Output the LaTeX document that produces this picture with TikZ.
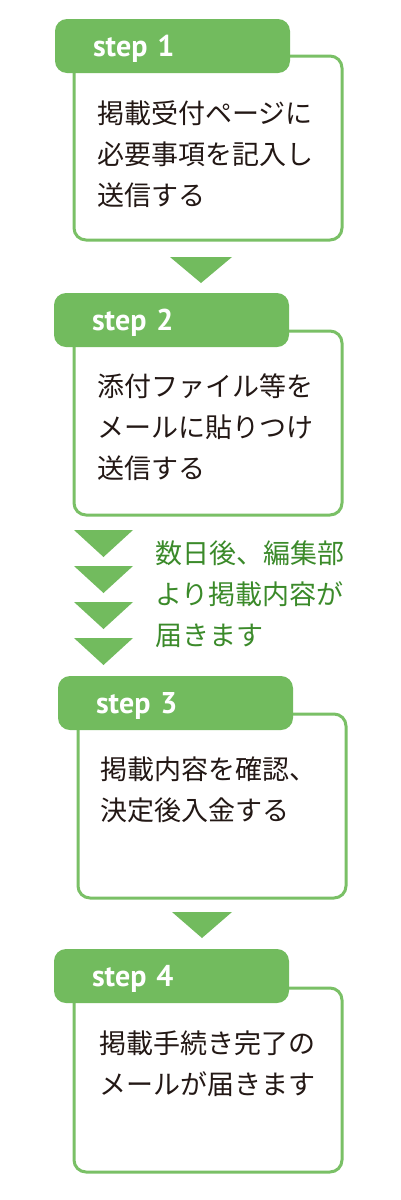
\documentclass[tikz,border=0pt]{standalone}
\usepackage{fontspec}
\newfontfamily\jpfont{Noto Sans CJK JP}
\newfontfamily\stepfont{PT Sans}[WordSpace=0.6]
\definecolor{stepgreen}{RGB}{114,187,94}
\definecolor{linegreen}{RGB}{122,192,102}
\definecolor{notegreen}{RGB}{59,138,42}
\definecolor{inkblack}{RGB}{35,24,21}
\tikzset{
  bodybox/.style={draw=linegreen, line width=3pt, rounded corners=12pt, fill=white,
    minimum width=268pt, minimum height=184pt, inner sep=0pt, outer sep=0pt, anchor=north west},
  tabbox/.style={fill=stepgreen, rounded corners=12pt, text=white,
    font=\stepfont\bfseries\fontsize{30pt}{30pt}\selectfont,
    text width=159pt, inner xsep=38pt, inner ysep=0pt, minimum height=54pt,
    text depth=0pt, align=left, outer sep=0pt, anchor=north west},
  % base anchor sits on the last line of the text
  steptext/.style={font=\jpfont\fontsize{27pt}{41pt}\selectfont, text=inkblack,
    align=left, anchor=base west, inner sep=0pt},
  notetext/.style={steptext, text=notegreen},
  downtri/.style={fill=stepgreen}
}
\begin{document}
\begin{tikzpicture}[x=1pt,y=-1pt]
  \useasboundingbox (0,0) rectangle (400,1200);
  % step 1
  \node[bodybox] (body1) at (74,56) {};
  \node[tabbox] (tab1) at (55,19) {step 1};
  \node[steptext] (text1) at (97,205) {掲載受付ページに\\必要事項を記入し\\送信する};
  \fill[downtri] (170,257) -- (232,257) -- (201,283) -- cycle;
  % step 2
  \node[bodybox] (body2) at (74,331) {};
  \node[tabbox] (tab2) at (54,293) {step 2};
  \node[steptext] (text2) at (97,478) {添付ファイル等を\\メールに貼りつけ\\送信する};
  % waiting
  \foreach \ty in {530,566,602,638}
    \fill[downtri] (74,\ty) -- (133,\ty) -- (103.5,{\ty+27}) -- cycle;
  \node[notetext] (note) at (155,645) {数日後、編集部\\より掲載内容が\\届きます};
  % step 3
  \node[bodybox] (body3) at (78,714) {};
  \node[tabbox] (tab3) at (58,676) {step 3};
  \node[steptext] (text3) at (100,820) {掲載内容を確認、\\決定後入金する};
  \fill[downtri] (172,912) -- (232,912) -- (202,938) -- cycle;
  % step 4
  \node[bodybox] (body4) at (74,988) {};
  \node[tabbox] (tab4) at (54,949) {step 4};
  \node[steptext] (text4) at (99,1094) {掲載手続き完了の\\メールが届きます};
\end{tikzpicture}
\end{document}
